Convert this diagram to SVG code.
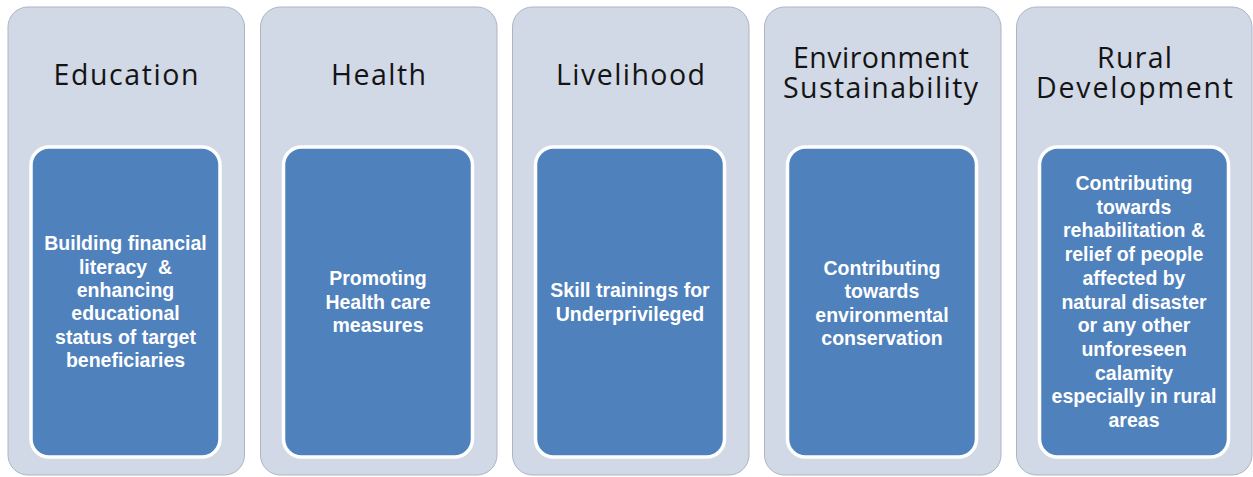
<svg xmlns="http://www.w3.org/2000/svg" width="1253" height="477" viewBox="0 0 1253 477">
<style>
.panel{fill:#d1d8e6;stroke:#aeb5c2;stroke-width:1}
.inner{fill:#4f81bd;stroke:#ffffff;stroke-width:3.5}
.title{font-family:"Open Sans","Liberation Sans",sans-serif;font-size:28.5px;fill:#141414;text-anchor:middle}
.body{font-family:"Liberation Sans",Arial,sans-serif;font-size:19.5px;font-weight:bold;fill:#ffffff;text-anchor:middle}
</style>
<rect width="1253" height="477" fill="#ffffff"/>
<g id="education">
<rect class="panel" x="8" y="7" width="236.5" height="468" rx="20"/>
<rect class="inner" x="31" y="147" width="189" height="310" rx="18"/>
<text class="title" x="126" y="85" textLength="145" lengthAdjust="spacing">Education</text>
<text class="body" x="125.5" y="250">Building financial</text>
<text class="body" x="125.5" y="273.5" xml:space="preserve">literacy  &amp;</text>
<text class="body" x="125.5" y="297">enhancing</text>
<text class="body" x="125.5" y="320">educational</text>
<text class="body" x="125.5" y="343.5">status of target</text>
<text class="body" x="125.5" y="367">beneficiaries</text>
</g>
<g id="health">
<rect class="panel" x="260.5" y="7" width="236.5" height="468" rx="20"/>
<rect class="inner" x="283.5" y="147" width="189" height="310" rx="18"/>
<text class="title" x="378.5" y="85" textLength="95" lengthAdjust="spacing">Health</text>
<text class="body" x="378" y="285">Promoting</text>
<text class="body" x="378" y="308.5">Health care</text>
<text class="body" x="378" y="332">measures</text>
</g>
<g id="livelihood">
<rect class="panel" x="512.5" y="7" width="236.5" height="468" rx="20"/>
<rect class="inner" x="535.5" y="147" width="189" height="310" rx="18"/>
<text class="title" x="630.5" y="85" textLength="149" lengthAdjust="spacing">Livelihood</text>
<text class="body" x="630" y="297">Skill trainings for</text>
<text class="body" x="630" y="320.5">Underprivileged</text>
</g>
<g id="environment">
<rect class="panel" x="764.5" y="7" width="236.5" height="468" rx="20"/>
<rect class="inner" x="787.5" y="147" width="189" height="310" rx="18"/>
<text class="title" x="881" y="68" textLength="176" lengthAdjust="spacing">Environment</text>
<text class="title" x="880.5" y="98" textLength="195" lengthAdjust="spacing">Sustainability</text>
<text class="body" x="882" y="275">Contributing</text>
<text class="body" x="882" y="298">towards</text>
<text class="body" x="882" y="321.5">environmental</text>
<text class="body" x="882" y="344.5">conservation</text>
</g>
<g id="rural">
<rect class="panel" x="1016.5" y="7" width="235.5" height="468" rx="20"/>
<rect class="inner" x="1039.5" y="147" width="189" height="310" rx="18"/>
<text class="title" x="1134.5" y="68" textLength="75" lengthAdjust="spacing">Rural</text>
<text class="title" x="1134.5" y="98" textLength="197" lengthAdjust="spacing">Development</text>
<text class="body" x="1134" y="190">Contributing</text>
<text class="body" x="1134" y="213.7">towards</text>
<text class="body" x="1134" y="237.4">rehabilitation &amp;</text>
<text class="body" x="1134" y="261.1">relief of people</text>
<text class="body" x="1134" y="284.8">affected by</text>
<text class="body" x="1134" y="308.5">natural disaster</text>
<text class="body" x="1134" y="332.2">or any other</text>
<text class="body" x="1134" y="355.9">unforeseen</text>
<text class="body" x="1134" y="379.6">calamity</text>
<text class="body" x="1134" y="403.3">especially in rural</text>
<text class="body" x="1134" y="427">areas</text>
</g>
<g id="connectors"></g>
</svg>
